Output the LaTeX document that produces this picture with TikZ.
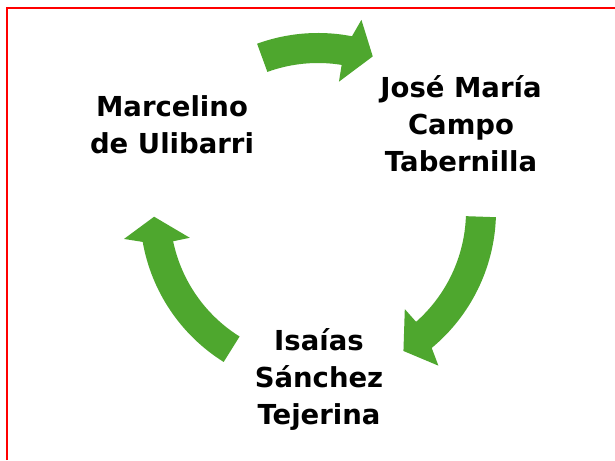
\documentclass[tikz,border=0pt]{standalone}
\usepackage{fontspec}
\setmainfont{DejaVu Sans}
\usetikzlibrary{calc}
\definecolor{cyclegreen}{HTML}{4EA72E}
\def\cyclearrow(#1:#2:#3){\fill[cyclegreen] ($(c)+(#1:178)$) arc (#1:#2:178) -- ($(c)+({#2-1.8}:196)$) -- ($(c)+(#3:164)$) -- ($(c)+({#2+1.8}:131)$) -- ($(c)+({#2+1.8}:148)$) arc ({#2+1.8}:#1:148) -- cycle;}
\tikzset{personname/.style={font=\bfseries\fontsize{27.5}{37}\selectfont, align=center, inner sep=0pt}}

\begin{document}
\begin{tikzpicture}[x=1pt, y=1pt]
			%%%%% START %%%%%
			
			\useasboundingbox (0, 0) rectangle (615, 460);
			\fill[white] (0, 0) rectangle (615, 460);
			\draw[red, line width=1.5pt] (7, 0) -- (7, 452) -- (616, 452);
			
			\coordinate (c) at (318, 249);
			
			\cyclearrow(110:79:70.5);
			\cyclearrow(-2:-50.3:-58.6);
			\cyclearrow(238:190:182);
			
			\node[personname] (marcelino) at (172, 335) {Marcelino\\de Ulibarri};
			\node[personname] (jose) at (461, 336) {José María\\Campo\\Tabernilla};
			\node[personname] (isaias) at (319, 81) {Isaías\\Sánchez\\Tejerina};
			
			%%%%% END %%%%%
		\end{tikzpicture}
\end{document}
